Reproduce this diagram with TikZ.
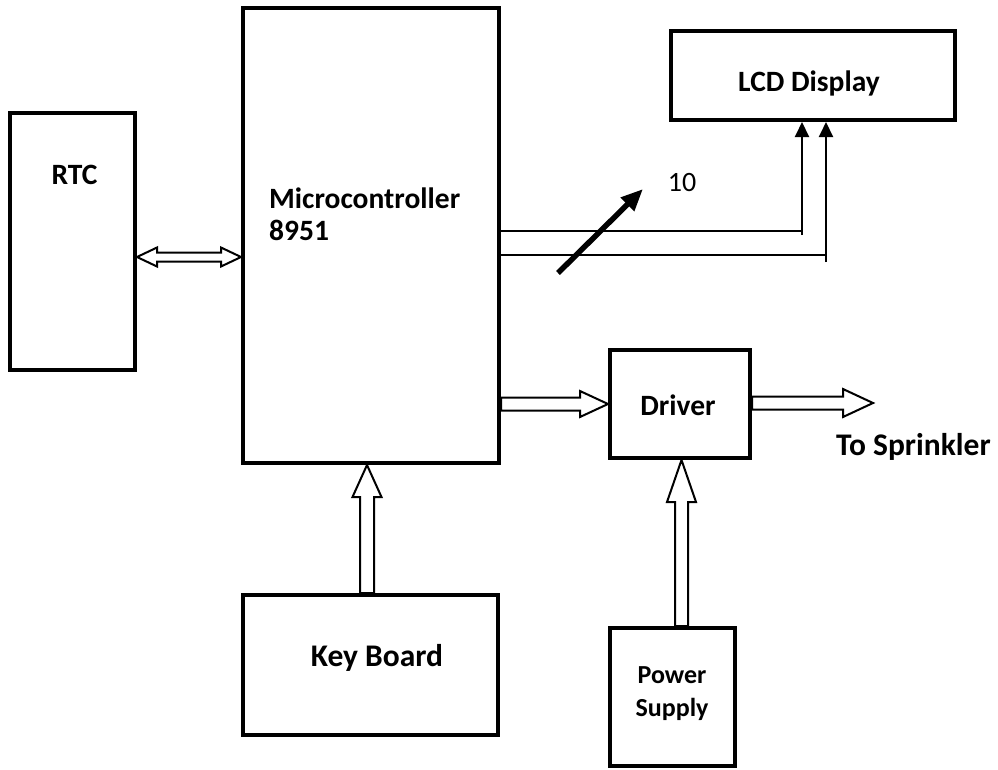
\documentclass[tikz,border=0pt]{standalone}
\usepackage{fontspec}
\setmainfont{Carlito}
\usetikzlibrary{arrows.meta,calc}
\tikzset{
  blk/.style={draw, line width=4pt, inner sep=0pt},
  lbl/.style={font=\bfseries\fontsize{29.5}{32}\selectfont, inner sep=0pt},
  hol/.style={draw, line width=2pt, fill=white, line join=miter},
  bus/.style={draw, line width=2pt},
  slash/.style={draw, line width=5.5pt, -{Triangle[length=22pt,width=18pt]}}
}
\newcommand\hArrowRight[5]{\draw[hol] let \p1=#1,\p2=#2 in
  (\x1,\y1+#3) -- (\x2-#5,\y1+#3) -- (\x2-#5,\y1+#4) -- (\x2,\y1) --
  (\x2-#5,\y1-#4) -- (\x2-#5,\y1-#3) -- (\x1,\y1-#3) -- cycle;}
\newcommand\vArrowUp[5]{\draw[hol] let \p1=#1,\p2=#2 in
  (\x1-#3,\y1) -- (\x1-#3,\y2-#5) -- (\x1-#4,\y2-#5) -- (\x1,\y2) --
  (\x1+#4,\y2-#5) -- (\x1+#3,\y2-#5) -- (\x1+#3,\y1) -- cycle;}
\newcommand\hDouble[5]{\draw[hol] let \p1=#1,\p2=#2 in
  (\x1,\y1) -- (\x1+#5,\y1+#4) -- (\x1+#5,\y1+#3) -- (\x2-#5,\y1+#3) --
  (\x2-#5,\y1+#4) -- (\x2,\y1) -- (\x2-#5,\y1-#4) -- (\x2-#5,\y1-#3) --
  (\x1+#5,\y1-#3) -- (\x1+#5,\y1-#4) -- cycle;}
\begin{document}
\begin{tikzpicture}[x=1pt,y=-1pt]
\useasboundingbox (0,0) rectangle (998,769);
% boxes
\node[blk, minimum width=125pt, minimum height=257pt] (rtc) at (72.5,241.5) {};
\node[blk, minimum width=256pt, minimum height=455pt] (mcu) at (371,235.5) {};
\node[blk, minimum width=284pt, minimum height=89pt] (lcd) at (813,75.5) {};
\node[blk, minimum width=140pt, minimum height=108pt] (drv) at (680,404) {};
\node[blk, minimum width=255pt, minimum height=140pt] (kb) at (370.5,665) {};
\node[blk, minimum width=125pt, minimum height=138pt] (ps) at (672.5,697) {};
% labels
\node[lbl] (trtc) at (74.5,175) {RTC};
\node[lbl, anchor=west, align=left] (tmcu) at (269,214) {Microcontroller\\8951};
\node[lbl] (tlcd) at (809,83) {LCD Display};
\node[lbl] (tdrv) at (678,405) {Driver};
\node[lbl, font=\bfseries\fontsize{31.5}{34}\selectfont] (tkb) at (377,658) {Key Board};
\node[lbl, font=\bfseries\fontsize{26}{33}\selectfont, align=center] (tps) at (672,694) {Power\\Supply};
\node[lbl, anchor=west, font=\bfseries\fontsize{31.5}{34}\selectfont] (tspr) at (836,447) {To Sprinkler};
\node[font=\fontsize{28}{30}\selectfont, inner sep=0pt] (ten) at (682,183) {10};
% RTC <-> MCU
\coordinate (rl) at ($(rtc.east)+(0,15.5)$);
\coordinate (rr) at (mcu.west |- rl);
\hDouble{(rl)}{(rr)}{4.5pt}{9.5pt}{20pt}
% bus to LCD
\coordinate (b1) at (802,231);
\coordinate (b2) at (826,255);
\draw[bus] (mcu.east |- b1) -- (b1);
\draw[bus, -{Triangle[length=15pt,width=14pt]}] ($(b1)+(0,4)$) -- (b1 |- lcd.south);
\draw[bus] (mcu.east |- b2) -- (b2);
\draw[bus, -{Triangle[length=15pt,width=14pt]}] ($(b2)+(0,7)$) -- (b2 |- lcd.south);
% slash
\coordinate (s1) at (558,273);
\coordinate (s2) at (643,189);
\draw[slash] (s1) -- (s2);
% MCU -> Driver
\hArrowRight{(mcu.east |- drv.west)}{(drv.west)}{6.5pt}{13pt}{28pt}
% Driver -> Sprinkler
\coordinate (spr) at (873,403);
\hArrowRight{(drv.east |- spr)}{(spr)}{6.5pt}{14pt}{30pt}
% Keyboard -> MCU
\coordinate (kbt) at ($(kb.north)+(-3.5,0)$);
\vArrowUp{(kbt)}{(kbt |- mcu.south)}{7pt}{14.5pt}{32pt}
% Power -> Driver
\coordinate (pst) at ($(ps.north)+(9,0)$);
\vArrowUp{(pst)}{(pst |- drv.south)}{6.5pt}{14.5pt}{42pt}
\end{tikzpicture}
\end{document}
